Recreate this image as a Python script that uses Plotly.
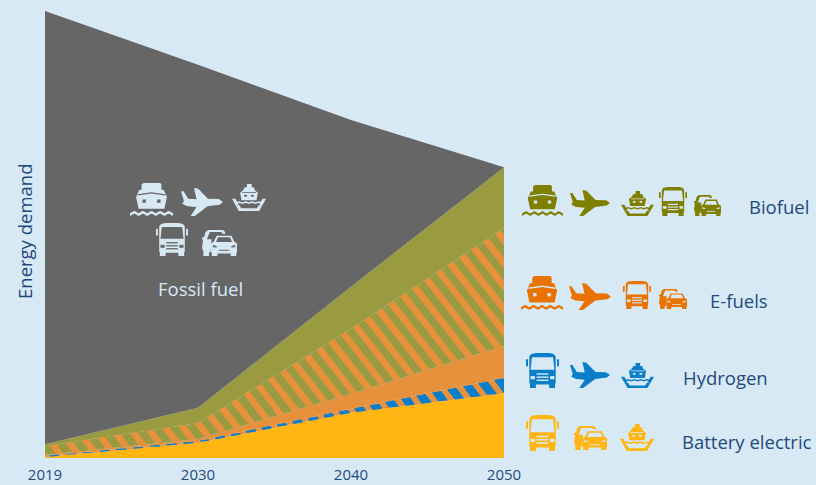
import math
import plotly.graph_objects as go

# Scenario years and stacked energy demand (index, 2019 total = 100)
years = ["2019", "2030", "2040", "2050"]
battery = [0.2, 3.4, 10.1, 14.5]
hydrogen = [0.25, 0.4, 0.9, 3.4]
efuel_solid = [0.2, 0.45, 3.3, 7.15]
efuel_bio_mix = [2.0, 3.6, 14.6, 26.4]
biofuel = [0.4, 3.4, 9.4, 13.6]
fossil = [96.95, 76.75, 37.3, 0.0]

BG = "#d8e9f6"
INK = "#1f4a7c"
OLIVE_AREA = "#9a9b40"
ORANGE_AREA = "#e8913d"
YELLOW = "#ffb612"
BLUE = "#0a7ec8"
GREY = "#666666"
ICON_OLIVE = "#808000"
ICON_ORANGE = "#e97200"

PLOT_L, PLOT_R, PLOT_T, PLOT_B = 45, 504, 11, 458
FONT = "Open Sans"
POS = list(range(len(years)))
PX_PER_X = (PLOT_R - PLOT_L) / POS[-1]
PX_PER_Y = (PLOT_B - PLOT_T) / 100

fig = go.Figure()


def area(name, values, color):
    fig.add_trace(go.Scatter(
        x=POS, y=values, name=name, mode="lines", stackgroup="demand",
        line=dict(width=0, color=color), fillcolor=color,
        showlegend=False, hoverinfo="name+y",
    ))


area("Battery electric", battery, YELLOW)
area("Hydrogen", hydrogen, ORANGE_AREA)
area("E-fuels", efuel_solid, ORANGE_AREA)
area("E-fuels / biofuel", efuel_bio_mix, OLIVE_AREA)
area("Biofuel", biofuel, OLIVE_AREA)
area("Fossil fuel", fossil, GREY)


def add_up(*series):
    return [sum(vals) for vals in zip(*series)]


def lerp(xv, values):
    i = min(int(xv), len(values) - 2)
    return values[i] + (values[i + 1] - values[i]) * (xv - i)


# Diagonal hatching: each stripe is clipped to the band between two stack edges.
def hatch(lower, upper, color, name, anchor_px, anchor_y, width_px, period=18.0, slope=1.27):
    xs_out, ys_out = [], []
    x_left, x_right = PLOT_L - 400, PLOT_R + 400
    k = int((x_left - anchor_px) // period)
    while anchor_px + k * period < x_right:
        c = anchor_px + k * period
        k += 1
        top, bottom = [], []
        for px in range(PLOT_L, PLOT_R + 1):
            xv = (px - PLOT_L) / PX_PER_X
            y_hi = (PLOT_B - (anchor_y + slope * (px - c - width_px / 2))) / PX_PER_Y
            y_lo = (PLOT_B - (anchor_y + slope * (px - c + width_px / 2))) / PX_PER_Y
            hi = min(y_hi, lerp(xv, upper))
            lo = max(y_lo, lerp(xv, lower))
            if lo < hi:
                top.append((xv, hi))
                bottom.append((xv, lo))
        if top:
            pts = top + bottom[::-1] + [top[0]]
            xs_out += [p[0] for p in pts] + [None]
            ys_out += [p[1] for p in pts] + [None]
    fig.add_trace(go.Scatter(x=xs_out, y=ys_out, mode="lines", fill="toself", fillcolor=color,
                             line=dict(width=0, color=color), name=name,
                             showlegend=False, hoverinfo="skip"))


edge_battery = add_up(battery)
edge_hydrogen = add_up(battery, hydrogen)
edge_efuel = add_up(battery, hydrogen, efuel_solid)
edge_mix = add_up(battery, hydrogen, efuel_solid, efuel_bio_mix)
hatch(edge_battery, edge_hydrogen, BLUE, "Hydrogen stripes", 498.3, 379.3, 11.0)
hatch(edge_efuel, edge_mix, ORANGE_AREA, "E-fuel stripes", 495.0, 229.0, 8.7)


# Icons are drawn in a 0-100 box (y downwards) and scaled into a pixel box.
def wave(x0, x1, y, amp, n):
    pts = []
    steps = n * 8
    for i in range(steps + 1):
        t = i / steps
        pts.append((x0 + (x1 - x0) * t, y + amp * math.cos(2 * math.pi * n * t)))
    return pts


def thick(pts, w):
    return list(pts) + [(x, y + w) for x, y in reversed(pts)]


TRUCK = [
    ("fg", [(16, 3), (30, 0), (70, 0), (84, 3), (90, 10), (90, 86), (88, 88), (88, 100), (70, 100), (70, 90),
            (30, 90), (30, 100), (12, 100), (12, 88), (10, 86), (10, 10)]),
    ("fg", [(0, 18), (6, 18), (6, 38), (0, 38)]),
    ("fg", [(94, 18), (100, 18), (100, 38), (94, 38)]),
    ("bg", [(18, 12), (82, 12), (86, 48), (14, 48)]),
    ("bg", [(14, 66), (27, 66), (27, 75), (14, 75)]),
    ("bg", [(73, 66), (86, 66), (86, 75), (73, 75)]),
    ("bg", [(32, 58), (68, 58), (68, 62), (32, 62)]),
    ("bg", [(32, 67), (68, 67), (68, 71), (32, 71)]),
    ("bg", [(32, 76), (68, 76), (68, 80), (32, 80)]),
]
PLANE = [
    ("fg", [(0, 12), (6, 12), (17, 38), (37, 40), (31, 0), (41, 3), (64, 38), (90, 39), (100, 50), (92, 60),
            (63, 65), (33, 100), (23, 100), (37, 68), (15, 65), (3, 56), (7, 46)]),
]
FERRY = [
    ("fg", [(0, 55), (10, 55), (27, 90), (73, 90), (90, 55), (100, 55), (80, 100), (20, 100)]),
    ("fg", thick(wave(12, 88, 66, 2, 4), 6)),
    ("fg", [(38, 12), (44, 12), (44, 0), (58, 0), (58, 12), (64, 12), (68, 24), (76, 32), (72, 60),
            (28, 60), (24, 32), (32, 24)]),
    ("bg", [(30, 30), (70, 30), (70, 33), (30, 33)]),
    ("bg", [(36, 40), (44, 40), (44, 47), (36, 47)]),
    ("bg", [(56, 40), (64, 40), (64, 47), (56, 47)]),
    ("bg", thick(wave(16, 84, 75, 2, 4), 3)),
]
SHIP = [
    ("fg", [(27, 4), (32, 0), (70, 0), (73, 4), (73, 20), (79, 22), (84, 38), (86, 42), (80, 78), (20, 78),
            (14, 42), (16, 38), (21, 22), (27, 20)]),
    ("bg", [(18, 34), (50, 28), (82, 34), (82, 38), (50, 32), (18, 38)]),
    ("bg", [(29, 50), (37, 50), (37, 60), (29, 60)]),
    ("bg", [(63, 50), (71, 50), (71, 60), (63, 60)]),
    ("fg", thick(wave(0, 100, 88, 3, 5), 8)),
]
CARS = [
    # Car behind, shown as an outline
    ("fg", [(10, 8), (18, 0), (60, 0), (66, 8), (66, 14), (58, 14), (56, 8), (22, 8), (14, 36), (32, 36),
            (32, 86), (20, 86), (20, 100), (4, 100), (4, 82), (0, 70), (3, 38), (0, 34), (0, 28), (6, 28)]),
    # Car in front
    ("bg", [(28, 24), (36, 16), (90, 16), (104, 50), (104, 100), (24, 100)]),
    ("fg", [(42, 22), (84, 22), (92, 44), (100, 52), (100, 86), (98, 88), (98, 100), (82, 100), (82, 90),
            (44, 90), (44, 100), (28, 100), (28, 88), (26, 86), (26, 52), (34, 44)]),
    ("bg", [(46, 28), (80, 28), (86, 46), (40, 46)]),
    ("bg", [(31, 58), (42, 62), (42, 67), (31, 66)]),
    ("bg", [(95, 58), (84, 62), (84, 67), (95, 66)]),
    ("bg", [(48, 76), (78, 76), (78, 80), (48, 80)]),
]


def to_paper(px, py):
    return ((px - PLOT_L) / (PLOT_R - PLOT_L), (PLOT_B - py) / (PLOT_B - PLOT_T))


def place(icon, box, fg, bg):
    x0, y0, x1, y1 = box
    for layer, pts in icon:
        cmds = []
        for i, (u, v) in enumerate(pts):
            xp, yp = to_paper(x0 + (x1 - x0) * u / 100, y0 + (y1 - y0) * v / 100)
            cmds.append(f"{'M' if i == 0 else 'L'}{xp:.5f},{yp:.5f}")
        fig.add_shape(type="path", path=" ".join(cmds) + " Z", xref="paper", yref="paper",
                      fillcolor=fg if layer == "fg" else bg, line=dict(width=0), layer="above")


ICON_ROWS = [
    (BG, GREY, [(SHIP, (130, 183, 173, 216)), (PLANE, (181, 188, 223, 216)), (FERRY, (232, 184, 266, 211)),
                (TRUCK, (156, 223, 188, 256)), (CARS, (202, 230, 237, 256))]),
    (ICON_OLIVE, BG, [(SHIP, (522, 185, 563, 216)), (PLANE, (570, 190, 610, 216)), (FERRY, (621, 191, 654, 216)),
                      (TRUCK, (659, 187, 687, 216)), (CARS, (694, 195, 721, 216))]),
    (ICON_ORANGE, BG, [(SHIP, (521, 276, 563, 310)), (PLANE, (569, 283, 611, 310)),
                       (TRUCK, (623, 281, 651, 309)), (CARS, (659, 289, 687, 309))]),
    (BLUE, BG, [(TRUCK, (526, 353, 559, 388)), (PLANE, (570, 362, 610, 388)), (FERRY, (621, 363, 654, 388))]),
    (YELLOW, BG, [(TRUCK, (526, 415, 559, 451)), (CARS, (574, 426, 607, 450)), (FERRY, (620, 424, 654, 451))]),
]
for fg_col, bg_col, row in ICON_ROWS:
    for icon, box in row:
        place(icon, box, fg_col, bg_col)


def label(text, px, py, color=INK, size=18.5, **kw):
    xp, yp = to_paper(px, py)
    fig.add_annotation(text=text, x=xp, y=yp, xref="paper", yref="paper", showarrow=False,
                       xanchor="center", yanchor="middle",
                       font=dict(family=FONT, size=size, color=color), **kw)


label("Fossil fuel", 200, 288, color=BG)
label("Biofuel", 779, 207)
label("E-fuels", 739, 300)
label("Hydrogen", 725, 377)
label("Battery electric", 747, 441)
label("Energy demand", 24, 232, textangle=-90)

fig.update_layout(
    width=816, height=485, autosize=False,
    margin=dict(l=PLOT_L, r=816 - PLOT_R, t=PLOT_T, b=485 - PLOT_B, autoexpand=False, pad=0),
    paper_bgcolor=BG, plot_bgcolor=BG, showlegend=False,
    xaxis=dict(range=[POS[0], POS[-1]], tickmode="array", tickvals=POS, ticktext=years,
               automargin=False, showgrid=False, zeroline=False, showline=False, ticks="",
               ticklabelstandoff=6, tickfont=dict(family=FONT, size=15, color=INK)),
    yaxis=dict(range=[0, 100], visible=False, automargin=False, showgrid=False, zeroline=False),
)

fig.write_html("out.html")
